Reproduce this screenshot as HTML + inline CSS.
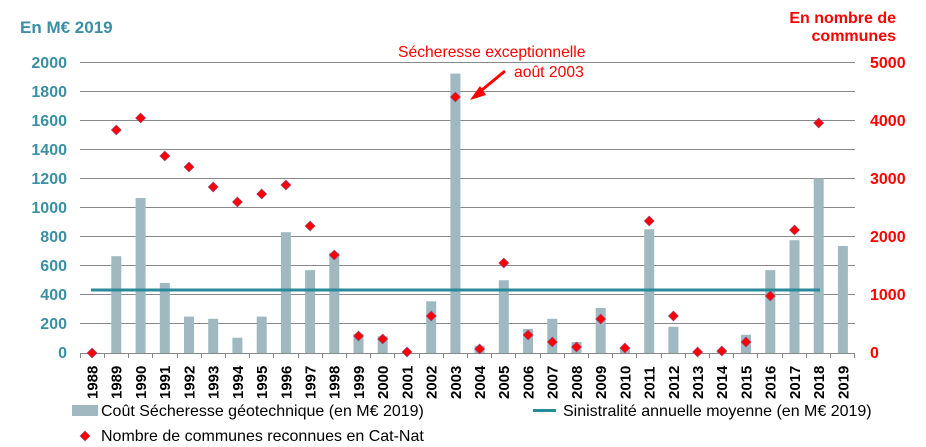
<!DOCTYPE html>
<html><head><meta charset="utf-8"><style>
body{margin:0;background:#fff;}
svg{display:block;font-family:"Liberation Sans",Arial,sans-serif;}
.yl{fill:#3a8fa5;font-weight:bold;font-size:16px;text-anchor:end}
.yr{fill:#ff0000;font-weight:bold;font-size:16px;text-anchor:start}
.xl{font-weight:bold;font-size:15px;fill:#000}
.b{fill:#a0b9c1}
</style></head><body>
<svg width="926" height="447" viewBox="0 0 926 447">
<defs><path id="d" d="M0,-5 L5,0 L0,5 L-5,0 Z" fill="#ff0000" stroke="#8a4b8a" stroke-width="0.6"/></defs>
<text x="20" y="33" fill="#3a8fa5" font-weight="bold" font-size="17">En M€ 2019</text>
<text x="896" y="23" fill="#ff0000" font-weight="bold" font-size="16" text-anchor="end">En nombre de</text>
<text x="896" y="41" fill="#ff0000" font-weight="bold" font-size="16" text-anchor="end">communes</text>
<g stroke="#888" stroke-width="1">
<line x1="80" x2="855" y1="62.5" y2="62.5"/><line x1="80" x2="855" y1="91.5" y2="91.5"/><line x1="80" x2="855" y1="120.5" y2="120.5"/><line x1="80" x2="855" y1="149.5" y2="149.5"/><line x1="80" x2="855" y1="178.5" y2="178.5"/><line x1="80" x2="855" y1="207.5" y2="207.5"/><line x1="80" x2="855" y1="236.5" y2="236.5"/><line x1="80" x2="855" y1="265.5" y2="265.5"/><line x1="80" x2="855" y1="294.5" y2="294.5"/><line x1="80" x2="855" y1="323.5" y2="323.5"/>
</g>
<g class="yl">
<text x="67" y="68">2000</text><text x="67" y="97">1800</text><text x="67" y="126">1600</text><text x="67" y="155">1400</text><text x="67" y="184">1200</text><text x="67" y="213">1000</text><text x="67" y="242">800</text><text x="67" y="271">600</text><text x="67" y="300">400</text><text x="67" y="329">200</text><text x="67" y="358">0</text>
</g>
<g class="yr">
<text x="870" y="68">5000</text><text x="870" y="126">4000</text><text x="870" y="184">3000</text><text x="870" y="242">2000</text><text x="870" y="300">1000</text><text x="870" y="358">0</text>
</g>
<g class="b">
<rect x="111.3" y="256.2" width="10" height="96.8"/>
<rect x="135.6" y="198" width="10" height="155"/>
<rect x="159.8" y="283" width="10" height="70"/>
<rect x="184" y="316.6" width="10" height="36.4"/>
<rect x="208.2" y="318.8" width="10" height="34.2"/>
<rect x="232.4" y="337.7" width="10" height="15.3"/>
<rect x="256.7" y="316.6" width="10" height="36.4"/>
<rect x="280.9" y="232.2" width="10" height="120.8"/>
<rect x="305.1" y="270.1" width="10" height="82.9"/>
<rect x="329.3" y="252.6" width="10" height="100.4"/>
<rect x="353.5" y="334" width="10" height="19"/>
<rect x="377.7" y="336.3" width="10" height="16.7"/>
<rect x="426.2" y="301.3" width="10" height="51.7"/>
<rect x="450.4" y="73.6" width="10" height="279.4"/>
<rect x="474.6" y="345.7" width="10" height="7.3"/>
<rect x="498.8" y="280.2" width="10" height="72.8"/>
<rect x="523.1" y="329" width="10" height="24"/>
<rect x="547.3" y="318.8" width="10" height="34.2"/>
<rect x="571.5" y="342" width="10" height="11"/>
<rect x="595.7" y="308" width="10" height="45"/>
<rect x="619.9" y="348.6" width="10" height="4.4"/>
<rect x="644.2" y="229.3" width="10" height="123.7"/>
<rect x="668.4" y="326.8" width="10" height="26.2"/>
<rect x="692.6" y="351.5" width="10" height="1.5"/>
<rect x="716.8" y="351.5" width="10" height="1.5"/>
<rect x="741" y="334.8" width="10" height="18.2"/>
<rect x="765.3" y="270.1" width="10" height="82.9"/>
<rect x="789.5" y="240.2" width="10" height="112.8"/>
<rect x="813.7" y="178.4" width="10" height="174.6"/>
<rect x="837.9" y="246" width="10" height="107"/>
</g>
<line x1="80" x2="855" y1="353.5" y2="353.5" stroke="#888"/>
<g stroke="#888">
<line x1="80.5" x2="80.5" y1="353" y2="358"/><line x1="104.5" x2="104.5" y1="353" y2="358"/><line x1="128.5" x2="128.5" y1="353" y2="358"/><line x1="152.5" x2="152.5" y1="353" y2="358"/><line x1="177.5" x2="177.5" y1="353" y2="358"/><line x1="201.5" x2="201.5" y1="353" y2="358"/><line x1="225.5" x2="225.5" y1="353" y2="358"/><line x1="249.5" x2="249.5" y1="353" y2="358"/><line x1="273.5" x2="273.5" y1="353" y2="358"/><line x1="298.5" x2="298.5" y1="353" y2="358"/><line x1="322.5" x2="322.5" y1="353" y2="358"/><line x1="346.5" x2="346.5" y1="353" y2="358"/><line x1="370.5" x2="370.5" y1="353" y2="358"/><line x1="394.5" x2="394.5" y1="353" y2="358"/><line x1="419.5" x2="419.5" y1="353" y2="358"/><line x1="443.5" x2="443.5" y1="353" y2="358"/><line x1="467.5" x2="467.5" y1="353" y2="358"/><line x1="491.5" x2="491.5" y1="353" y2="358"/><line x1="515.5" x2="515.5" y1="353" y2="358"/><line x1="540.5" x2="540.5" y1="353" y2="358"/><line x1="564.5" x2="564.5" y1="353" y2="358"/><line x1="588.5" x2="588.5" y1="353" y2="358"/><line x1="612.5" x2="612.5" y1="353" y2="358"/><line x1="636.5" x2="636.5" y1="353" y2="358"/><line x1="661.5" x2="661.5" y1="353" y2="358"/><line x1="685.5" x2="685.5" y1="353" y2="358"/><line x1="709.5" x2="709.5" y1="353" y2="358"/><line x1="733.5" x2="733.5" y1="353" y2="358"/><line x1="757.5" x2="757.5" y1="353" y2="358"/><line x1="782.5" x2="782.5" y1="353" y2="358"/><line x1="806.5" x2="806.5" y1="353" y2="358"/><line x1="830.5" x2="830.5" y1="353" y2="358"/><line x1="854.5" x2="854.5" y1="353" y2="358"/>
</g>
<line x1="91" x2="820" y1="290" y2="290" stroke="#2b8a9a" stroke-width="3"/>
<g>
<use href="#d" x="92.1" y="353"/><use href="#d" x="116.3" y="130"/><use href="#d" x="140.6" y="118"/><use href="#d" x="164.8" y="156"/><use href="#d" x="189" y="167"/><use href="#d" x="213.2" y="187"/><use href="#d" x="237.4" y="202"/><use href="#d" x="261.7" y="194"/><use href="#d" x="285.9" y="185"/><use href="#d" x="310.1" y="226"/><use href="#d" x="334.3" y="255"/><use href="#d" x="358.5" y="336"/><use href="#d" x="382.7" y="339"/><use href="#d" x="407" y="352"/><use href="#d" x="431.2" y="316"/><use href="#d" x="455.4" y="97"/><use href="#d" x="479.6" y="349"/><use href="#d" x="503.8" y="263"/><use href="#d" x="528.1" y="335"/><use href="#d" x="552.3" y="342"/><use href="#d" x="576.5" y="347"/><use href="#d" x="600.7" y="319"/><use href="#d" x="624.9" y="348"/><use href="#d" x="649.2" y="221"/><use href="#d" x="673.4" y="316"/><use href="#d" x="697.6" y="352"/><use href="#d" x="721.8" y="351"/><use href="#d" x="746" y="342"/><use href="#d" x="770.3" y="296"/><use href="#d" x="794.5" y="230"/><use href="#d" x="818.7" y="123"/>
</g>
<g class="xl">
<text transform="translate(97.5,399) rotate(-90)">1988</text><text transform="translate(121.5,399) rotate(-90)">1989</text><text transform="translate(146,399) rotate(-90)">1990</text><text transform="translate(170.2,399) rotate(-90)">1991</text><text transform="translate(194.4,399) rotate(-90)">1992</text><text transform="translate(218.6,399) rotate(-90)">1993</text><text transform="translate(242.8,399) rotate(-90)">1994</text><text transform="translate(267.1,399) rotate(-90)">1995</text><text transform="translate(291.3,399) rotate(-90)">1996</text><text transform="translate(315.5,399) rotate(-90)">1997</text><text transform="translate(339.7,399) rotate(-90)">1998</text><text transform="translate(363.9,399) rotate(-90)">1999</text><text transform="translate(388.1,399) rotate(-90)">2000</text><text transform="translate(412.4,399) rotate(-90)">2001</text><text transform="translate(436.6,399) rotate(-90)">2002</text><text transform="translate(460.8,399) rotate(-90)">2003</text><text transform="translate(485,399) rotate(-90)">2004</text><text transform="translate(509.2,399) rotate(-90)">2005</text><text transform="translate(533.5,399) rotate(-90)">2006</text><text transform="translate(557.7,399) rotate(-90)">2007</text><text transform="translate(581.9,399) rotate(-90)">2008</text><text transform="translate(606.1,399) rotate(-90)">2009</text><text transform="translate(630.3,399) rotate(-90)">2010</text><text transform="translate(654.6,399) rotate(-90)">2011</text><text transform="translate(678.8,399) rotate(-90)">2012</text><text transform="translate(703,399) rotate(-90)">2013</text><text transform="translate(727.2,399) rotate(-90)">2014</text><text transform="translate(751.4,399) rotate(-90)">2015</text><text transform="translate(775.7,399) rotate(-90)">2016</text><text transform="translate(799.9,399) rotate(-90)">2017</text><text transform="translate(824.1,399) rotate(-90)">2018</text><text transform="translate(848.3,399) rotate(-90)">2019</text>
</g>
<text x="398" y="57" fill="#ff0000" font-size="15.7">Sécheresse exceptionnelle</text>
<text x="514" y="77" fill="#ff0000" font-size="15.7">août 2003</text>
<line x1="505" y1="71" x2="477" y2="94" stroke="#ff0000" stroke-width="3"/>
<path d="M470,100 L480,86 L486,95 Z" fill="#ff0000"/>
<rect x="72" y="405" width="26" height="11" fill="#a0b9c1"/>
<text x="101" y="416" font-size="16" fill="#000">Coût Sécheresse géotechnique (en M€ 2019)</text>
<line x1="533" x2="556" y1="410.5" y2="410.5" stroke="#2b8a9a" stroke-width="3"/>
<text x="563" y="416" font-size="16" fill="#000">Sinistralité annuelle moyenne (en M€ 2019)</text>
<use href="#d" x="85" y="436"/>
<text x="101" y="441" font-size="16" fill="#000">Nombre de communes reconnues en Cat-Nat</text>
</svg>
</body></html>
